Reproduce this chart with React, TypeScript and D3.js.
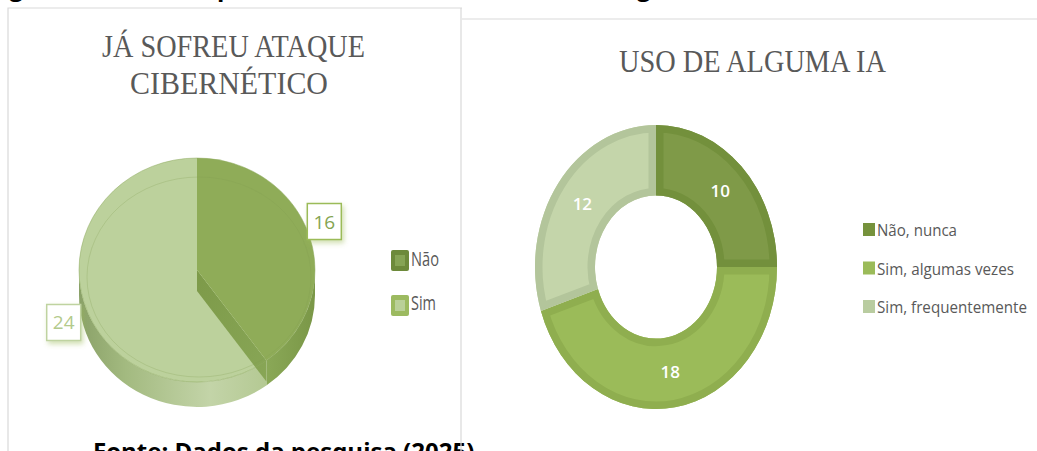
import React from "react";
import * as d3 from "d3";

// ---- Data ----
const pieTitle = ["JÁ SOFREU ATAQUE", "CIBERNÉTICO"];
const pieCats = ["Não", "Sim"];
const pieVals = [16, 24];

const donutTitle = "USO DE ALGUMA IA";
const donutCats = ["Não, nunca", "Sim, algumas vezes", "Sim, frequentemente"];
const donutVals = [10, 18, 12];

const captionTop = "Figura 4 – Nº de empresas atacadas e sobre o uso de alguma IA";
const captionBottom = "Fonte: Dados da pesquisa (2025)";

// ---- Styles ----
const pieFace = ["#8fac58", "#bcd19c"];
const pieLabelColor = ["#84a451", "#b3ca8c"];
const legMarkOuter = ["#6d8a3a", "#9cba60"];
const legMarkInner = ["#86a454", "#bad098"];

const donutFill = ["#7f9a48", "#9bbb59", "#c4d5aa"];
const donutBorder = ["#73903c", "#8fae4f", "#b3c59b"];
const donutLegend = ["#76923c", "#9bbb59", "#b9cca0"];

export default function App() {
  // 3D pie geometry
  const cx = 197, cy = 270, rx = 118, ry = 112, depth = 25;
  const pie = d3.pie<number>().sort(null).value((d) => d)(pieVals);
  const pt = (a: number, dx = 0, dy = 0) => [cx + rx * Math.sin(a) + dx, cy - ry * Math.cos(a) + dy];
  const sidePath = (a0: number, a1: number) => {
    const s = pt(a0), e = pt(a1), e2 = pt(a1, 0, depth), s2 = pt(a0, 0, depth);
    const large = a1 - a0 > Math.PI ? 1 : 0;
    return `M${s[0]},${s[1]} A${rx},${ry} 0 ${large} 1 ${e[0]},${e[1]} L${e2[0]},${e2[1]} A${rx},${ry} 0 ${large} 0 ${s2[0]},${s2[1]} Z`;
  };
  const facePath = (a0: number, a1: number) => {
    const s = pt(a0), e = pt(a1);
    const large = a1 - a0 > Math.PI ? 1 : 0;
    return `M${cx},${cy} L${s[0]},${s[1]} A${rx},${ry} 0 ${large} 1 ${e[0]},${e[1]} Z`;
  };
  const clampLower = (a0: number, a1: number) => {
    const lo = Math.max(a0, Math.PI / 2), hi = Math.min(a1, (3 * Math.PI) / 2);
    return hi > lo ? [lo, hi] : null;
  };
  const naoEnd = pie[0].endAngle;
  const wallP = pt(naoEnd);
  const wall = `M${cx},${cy} L${wallP[0]},${wallP[1]} L${wallP[0]},${wallP[1] + depth - 4} L${cx},${cy + depth - 4} Z`;

  const labelPos = pie.map((p, i) => {
    const m = (p.startAngle + p.endAngle) / 2;
    const k = 1.17;
    const off = i === 0 ? [-4, -8] : [-2, 12];
    return [cx + rx * k * Math.sin(m) + off[0], cy - ry * k * Math.cos(m) + off[1]];
  });

  // Donut geometry
  const dcx = 656, dcy = 267, dR = 121, dr = 61, dRy = 142;
  const sy = dRy / dR;
  const dpie = d3.pie<number>().sort(null).value((d) => d)(donutVals);
  const arc = d3.arc<d3.PieArcDatum<number>>().innerRadius(dr).outerRadius(dR);
  const lblArc = d3.arc<d3.PieArcDatum<number>>().innerRadius((dr + dR) / 2).outerRadius((dr + dR) / 2);

  return (
    <svg width={1037} height={451} style={{ position: "absolute", left: 0, top: 0, background: "#fff" }}>
      <defs>
        <filter id="lblShadow" x="-40%" y="-40%" width="180%" height="180%">
          <feDropShadow dx="2" dy="3" stdDeviation="2.5" floodColor="#9bbb59" floodOpacity="0.45" />
        </filter>
        <linearGradient id="sideSim" x1="0" y1="0" x2="1" y2="0">
          <stop offset="0" stopColor="#8aa168" />
          <stop offset="0.25" stopColor="#a3ba80" />
          <stop offset="0.7" stopColor="#c3d4a8" />
          <stop offset="1" stopColor="#b4c993" />
        </linearGradient>
        <linearGradient id="sideNao" x1="0" y1="0" x2="1" y2="0">
          <stop offset="0" stopColor="#8aa857" />
          <stop offset="1" stopColor="#7a9747" />
        </linearGradient>
        <linearGradient id="wallNao" x1="0" y1="0" x2="1" y2="1">
          <stop offset="0" stopColor="#7d9a49" />
          <stop offset="1" stopColor="#88a656" />
        </linearGradient>
        {dpie.map((p, i) => (
          <clipPath id={`dclip${i}`} key={i}>
            <path d={arc(p) || ""} />
          </clipPath>
        ))}
      </defs>

      {/* caption fragments (cut by the page edges) */}
      <text x={-11} y={-4} fontFamily="'Open Sans', sans-serif" fontWeight={700} fontSize={24} fill="#000">
        {captionTop}
      </text>
      <text x={93} y={460} fontFamily="'Open Sans', sans-serif" fontWeight={700} fontSize={24} fill="#000">
        {captionBottom}
      </text>

      {/* chart frames */}
      <path d="M8,451 L8,8 L462,8" fill="none" stroke="#d9d9d9" strokeWidth={1.2} />
      <path d="M461,8 L461,451" fill="none" stroke="#d9d9d9" strokeWidth={1.2} />
      <path d="M462,19 L1037,19" fill="none" stroke="#d9d9d9" strokeWidth={1.2} />

      {/* Left chart title */}
      {pieTitle.map((t, i) => (
        <text key={i} x={i === 0 ? 102 : 130} y={i === 0 ? 57 : 94} textLength={i === 0 ? 263 : 198}
          lengthAdjust="spacingAndGlyphs" fontFamily="'Liberation Serif', serif" fontSize={32} fill="#595959">
          {t}
        </text>
      ))}

      {/* 3D pie: sides */}
      {pie.map((p, i) => {
        const r = clampLower(p.startAngle, p.endAngle);
        if (!r) return null;
        return <path key={`s${i}`} d={sidePath(r[0], r[1])} fill={i === 0 ? "url(#sideNao)" : "url(#sideSim)"} />;
      })}
      {/* faces */}
      <path d={facePath(pie[1].startAngle, pie[1].endAngle)} fill={pieFace[1]} />
      <path d={wall} fill="url(#wallNao)" />
      <path d={facePath(pie[0].startAngle, pie[0].endAngle)} fill={pieFace[0]} />
      <ellipse cx={cx + 2} cy={cy + 7} rx={rx - 6} ry={ry - 12} fill="none" stroke="#7f9c4e" strokeOpacity={0.25} strokeWidth={1} />
      <path d={`M${cx - rx},${cy} A${rx},${ry} 0 1 1 ${cx + rx},${cy} A${rx},${ry} 0 1 1 ${cx - rx},${cy}`} fill="none" stroke="#8fac62" strokeOpacity={0.5} strokeWidth={1} />

      {/* pie data labels */}
      {pie.map((p, i) => (
        <g key={`l${i}`}>
          <rect x={labelPos[i][0] - 17} y={labelPos[i][1] - 18} width={34} height={36} fill="#fff"
            stroke={i === 0 ? "#9bbb59" : "#bfd3a0"} strokeWidth={1.5} filter="url(#lblShadow)" />
          <text x={labelPos[i][0]} y={labelPos[i][1] + 7} textAnchor="middle" fontFamily="'Open Sans', sans-serif"
            fontSize={19} fill={pieLabelColor[i]}>
            {pieVals[i]}
          </text>
        </g>
      ))}

      {/* pie legend */}
      {pieCats.map((c, i) => (
        <g key={`lg${i}`}>
          <rect x={391} y={250 + i * 45} width={18} height={21} rx={2} fill={legMarkOuter[i]} />
          <rect x={395} y={255 + i * 45} width={10} height={11} fill={legMarkInner[i]} />
          <text x={411} y={266 + i * 44} textLength={i === 0 ? 28 : 25} lengthAdjust="spacingAndGlyphs"
            fontFamily="'Open Sans', sans-serif" fontSize={20} fill="#595959">
            {c}
          </text>
        </g>
      ))}

      {/* Right chart title */}
      <text x={619} y={72} textLength={267} lengthAdjust="spacingAndGlyphs" fontFamily="'Liberation Serif', serif"
        fontSize={31} fill="#595959">
        {donutTitle}
      </text>

      {/* Donut */}
      <g transform={`translate(${dcx},${dcy}) scale(1,${sy})`}>
        {dpie.map((p, i) => (
          <g key={`d${i}`}>
            <path d={arc(p) || ""} fill={donutFill[i]} />
            <path d={arc(p) || ""} fill="none" stroke={donutBorder[i]} strokeWidth={15}
              vectorEffect="non-scaling-stroke" clipPath={`url(#dclip${i})`} />
          </g>
        ))}
      </g>
      {dpie.map((p, i) => {
        const c = lblArc.centroid(p);
        return (
          <text key={`dl${i}`} x={dcx + c[0]} y={dcy + c[1] * sy + 6} textAnchor="middle"
            fontFamily="'Open Sans', sans-serif" fontWeight={600} fontSize={17} fill="#fff">
            {donutVals[i]}
          </text>
        );
      })}

      {/* Donut legend */}
      {donutCats.map((c, i) => (
        <g key={`dlg${i}`}>
          <rect x={863} y={223 + i * 38.5} width={12} height={13} fill={donutLegend[i]} />
          <text x={877} y={236 + i * 38.5} textLength={[80, 137, 150][i]} lengthAdjust="spacingAndGlyphs"
            fontFamily="'Open Sans', sans-serif" fontSize={17} fill="#595959">
            {c}
          </text>
        </g>
      ))}
    </svg>
  );
}
